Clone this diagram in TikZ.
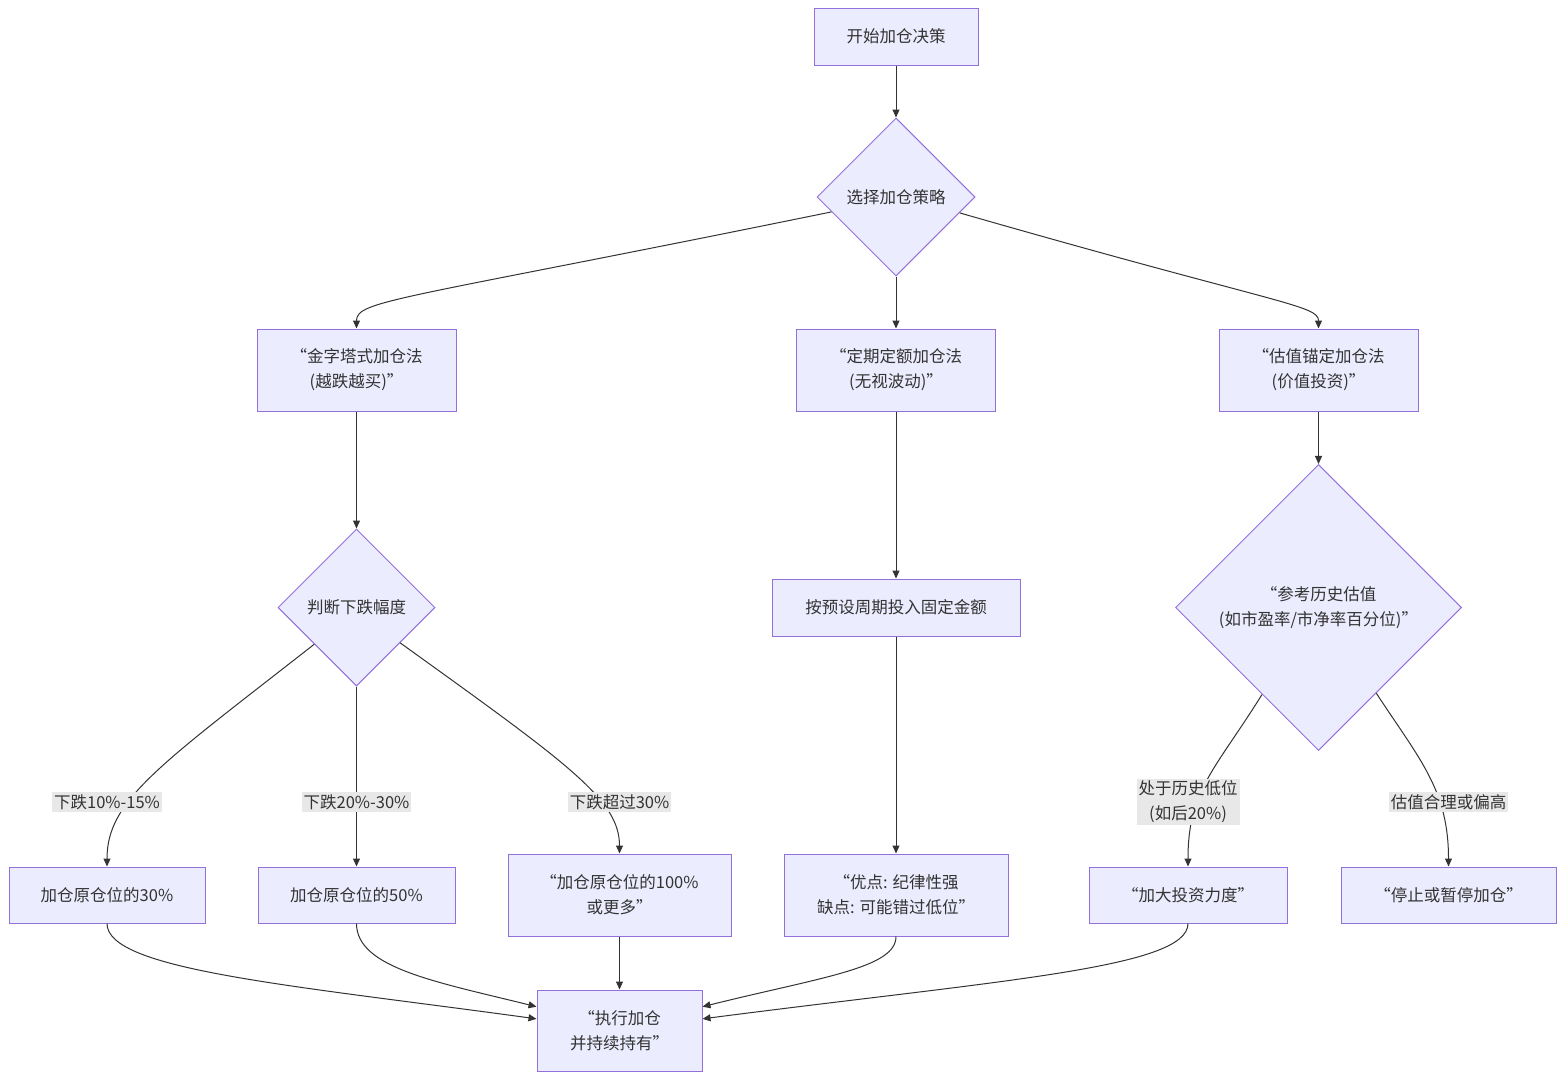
\documentclass[tikz,border=0pt]{standalone}
\usepackage{fontspec}
\setmainfont{Noto Sans CJK SC}
\usetikzlibrary{shapes.geometric,arrows.meta}
\definecolor{nodefill}{HTML}{ECECFF}
\definecolor{nodeline}{HTML}{9370DB}
\definecolor{edgeline}{HTML}{333333}
\definecolor{labelfill}{HTML}{E8E8E8}

\begin{document}
\begin{tikzpicture}[x=1pt,y=-1pt]

\tikzset{
  procbox/.style={
    rectangle,
    draw=nodeline,
    fill=nodefill,
    line width=1pt,
    text=edgeline,
    inner sep=0pt,
    align=center,
    font=\fontsize{16.5}{25}\selectfont
  },
  decision/.style={
    diamond,
    aspect=1,
    draw=nodeline,
    fill=nodefill,
    line width=1pt,
    text=edgeline,
    inner sep=0pt,
    align=center,
    font=\fontsize{16.5}{25}\selectfont
  },
  flow/.style={
    draw=edgeline,
    line width=1pt,
    -{Triangle[length=8pt,width=7pt]}
  },
  edgelabel/.style={
    fill=labelfill,
    text=edgeline,
    inner sep=2pt,
    align=center,
    font=\fontsize{16.5}{25}\selectfont
  }
}

\useasboundingbox (0,0) rectangle (1564,1080);

% Top of the chart
\node[procbox, minimum width=164, minimum height=57] (start) at (896,36.5) {开始加仓决策};
\node[decision, minimum width=158, minimum height=158] (choose) at (896,197) {选择加仓策略};

% Three strategies
\node[procbox, minimum width=199, minimum height=82] (pyr) at (356.5,370) {“金字塔式加仓法\\(越跌越买)”};
\node[procbox, minimum width=199, minimum height=82] (dca) at (896,370) {“定期定额加仓法\\(无视波动)”};
\node[procbox, minimum width=199, minimum height=82] (val) at (1318.5,370) {“估值锚定加仓法\\(价值投资)”};

% Second level
\node[decision, minimum width=157, minimum height=157] (judge) at (356.5,607.5) {判断下跌幅度};
\node[procbox, minimum width=248, minimum height=57] (fixed) at (896,607.5) {按预设周期投入固定金额};
\node[decision, minimum width=286, minimum height=286] (ref) at (1318.5,607.5) {“参考历史估值\\(如市盈率/市净率百分位)”};

% Actions
\node[procbox, minimum width=196, minimum height=56] (a30) at (107,895) {加仓原仓位的30\%};
\node[procbox, minimum width=197, minimum height=56] (a50) at (356.5,895) {加仓原仓位的50\%};
\node[procbox, minimum width=223, minimum height=82] (a100) at (619.5,895) {“加仓原仓位的100\%\\或更多”};
\node[procbox, minimum width=224, minimum height=82] (pros) at (896,895) {“优点: 纪律性强\\缺点: 可能错过低位”};
\node[procbox, minimum width=198, minimum height=56] (more) at (1188,895) {“加大投资力度”};
\node[procbox, minimum width=215, minimum height=56] (stop) at (1448.5,895) {“停止或暂停加仓”};

% Final step
\node[procbox, minimum width=165, minimum height=81] (exec) at (619.5,1030.5) {“执行加仓\\并持续持有”};

% Connectors, upper part
\draw[flow] (start) -- (choose);
\draw[flow] (choose.193) .. controls (400,300) and (356.5,300) .. (pyr.north);
\draw[flow] (choose) -- (dca);
\draw[flow] (choose.-14) .. controls (1280,305) and (1318.5,305) .. (val.north);
\draw[flow] (pyr) -- (judge);
\draw[flow] (dca) -- (fixed);
\draw[flow] (val) -- (ref);
\draw[flow] (fixed) -- (pros);

% Connectors from the decisions
\draw[flow] (judge.221) .. controls (160,765) and (107,800) .. (a30.north);
\draw[flow] (judge) -- (a50);
\draw[flow] (judge.-39) .. controls (570,765) and (619.5,800) .. (a100.north);
\draw[flow] (ref.237) .. controls (1215,770) and (1188,790) .. (more.north);
\draw[flow] (ref.-56) .. controls (1420,760) and (1448.5,790) .. (stop.north);

% Connectors into the final step
\draw[flow] (a30.south) .. controls (107,970) and (290,985) .. (exec.172);
\draw[flow] (a50.south) .. controls (356.5,968) and (437,982) .. (exec.164);
\draw[flow] (a100) -- (exec);
\draw[flow] (pros.south) .. controls (896,968) and (822,977) .. (exec.16);
\draw[flow] (more.south) .. controls (1188,968) and (1002,980) .. (exec.8);

% Edge labels
\node[edgelabel] (l30) at (107,802) {下跌10\%-15\%};
\node[edgelabel] (l50) at (356.5,802) {下跌20\%-30\%};
\node[edgelabel] (l100) at (619.5,802) {下跌超过30\%};
\node[edgelabel] (llow) at (1188,802) {处于历史低位\\(如后20\%)};
\node[edgelabel] (lhigh) at (1448.5,802) {估值合理或偏高};

\end{tikzpicture}
\end{document}
